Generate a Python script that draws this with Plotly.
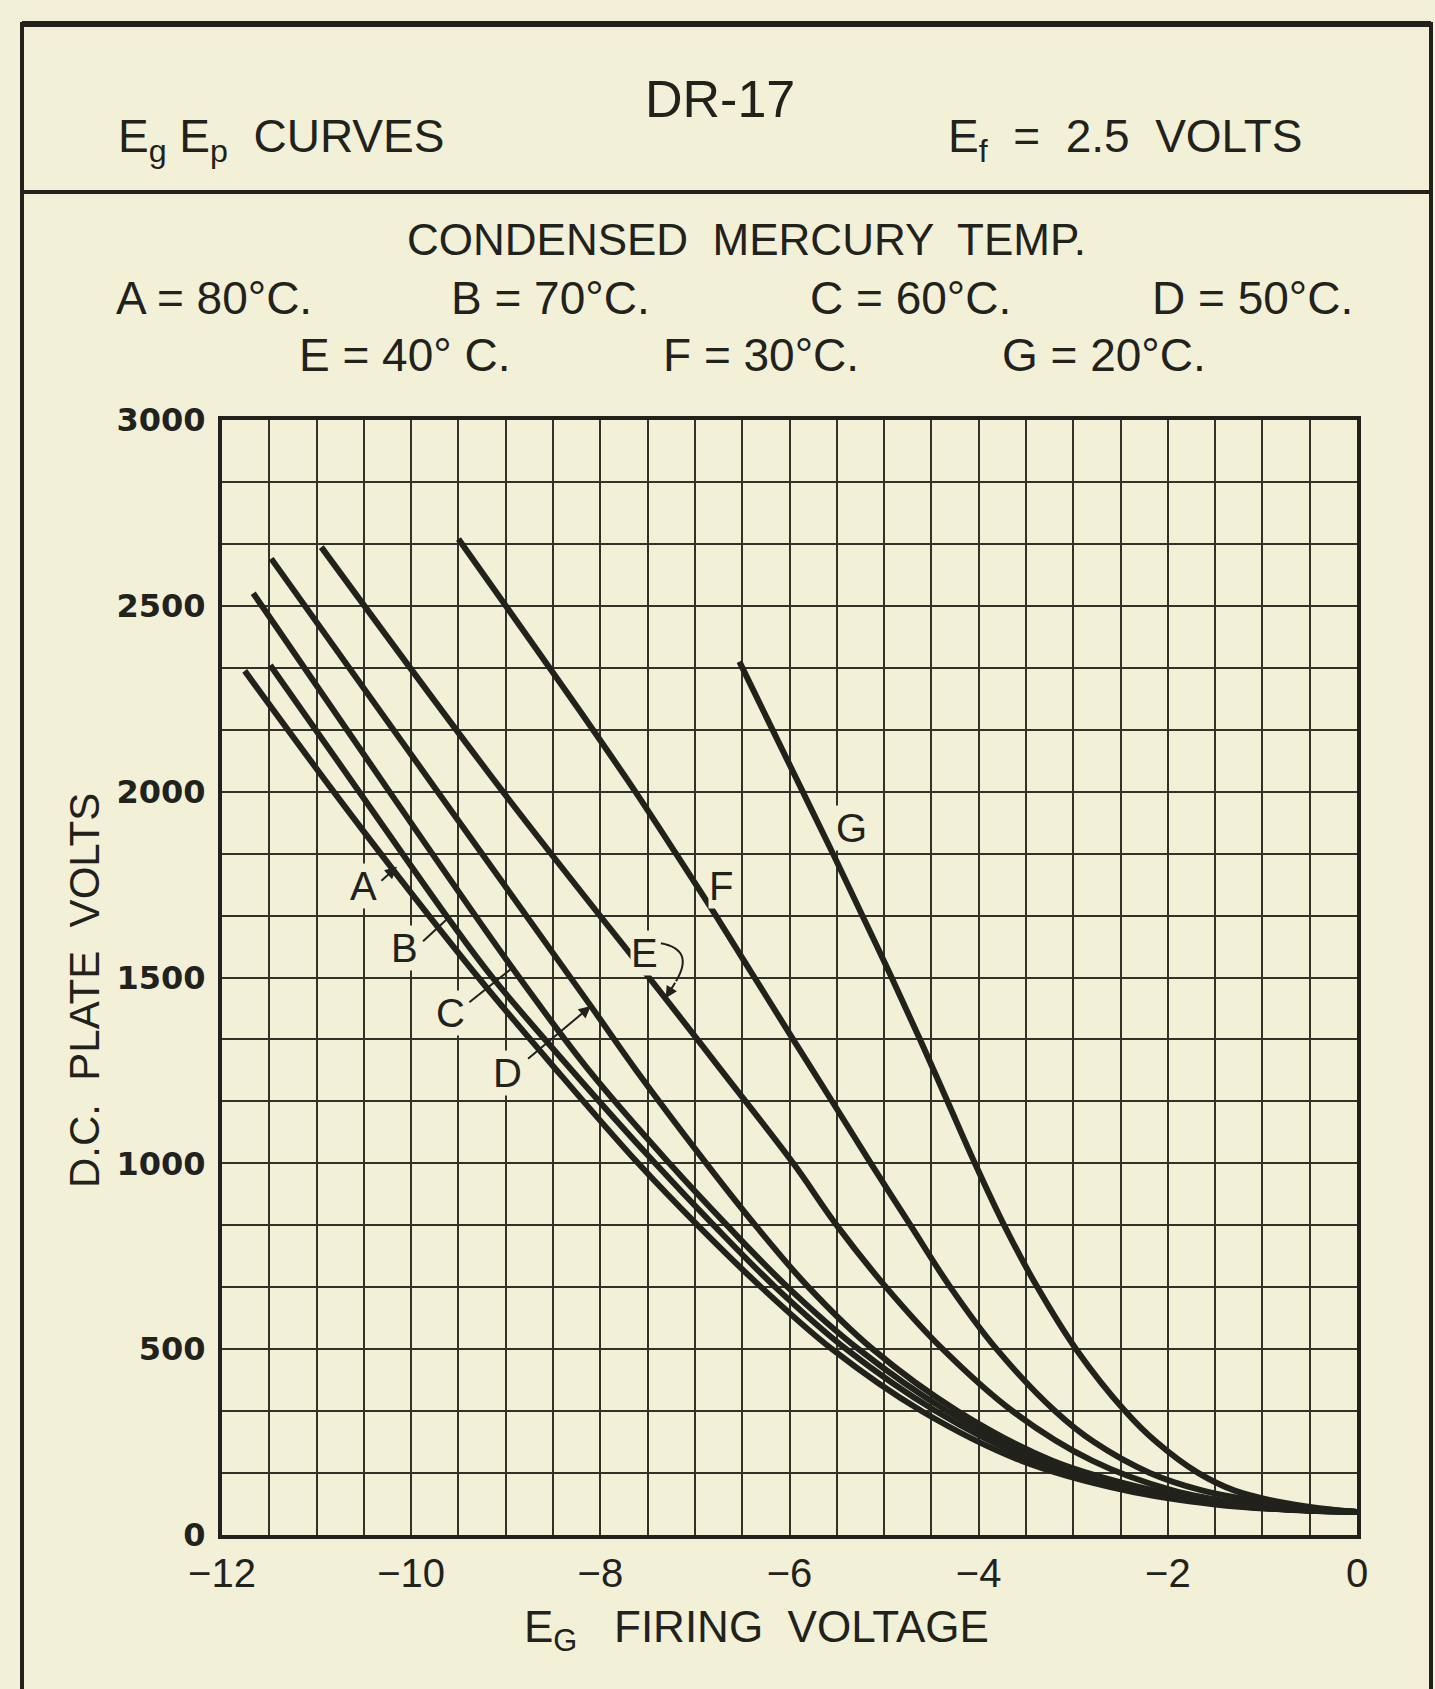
import plotly.graph_objects as go

# ---------------- data ----------------
EG_A = [-11.76, -10.82, -10.17, -9.29, -8.46, -7.6, -6.97, -6.3, -5.55, -4.6, -3.55, -2.45, -1.5, -0.75, 0.0]
EP_A = [2325, 2000, 1783, 1500, 1250, 1000, 833, 667, 500, 333, 200, 120, 82, 68, 62]

EG_B = [-11.49, -10.55, -9.63, -9.14, -8.3, -7.42, -6.8, -6.15, -5.4, -4.45, -3.42, -2.35, -1.42, -0.7, 0.0]
EP_B = [2340, 2000, 1667, 1500, 1250, 1000, 833, 667, 500, 333, 200, 120, 82, 68, 62]

EG_C = [-11.67, -10.23, -8.92, -8.12, -7.27, -6.66, -6.02, -5.27, -4.33, -3.32, -2.26, -1.36, -0.66, 0.0]
EP_C = [2534, 2000, 1522, 1250, 1000, 833, 667, 500, 333, 200, 120, 82, 68, 62]

EG_D = [-11.48, -9.72, -8.10, -7.62, -6.88, -6.36, -5.8, -5.12, -4.22, -3.22, -2.15, -1.3, -0.62, 0.0]
EP_D = [2627, 2000, 1423, 1250, 1000, 833, 667, 500, 333, 200, 120, 82, 68, 62]

EG_E = [-10.95, -9.03, -7.3, -6.72, -5.96, -5.5, -4.98, -4.38, -3.64, -2.8, -1.95, -1.22, -0.6, 0.0]
EP_E = [2658, 2000, 1440, 1250, 1000, 833, 667, 500, 333, 200, 120, 85, 70, 62]

EG_F = [-9.5, -9.0, -8.5, -8.06, -7.63, -7.2, -6.78, -6.37, -5.96, -5.55, -5.14, -4.72, -4.3, -3.81, -3.19, -2.78, -2.19, -1.64, -1.14, -0.57, 0.0]
EP_F = [2680, 2500, 2320, 2160, 2000, 1833, 1667, 1500, 1333, 1167, 1000, 833, 667, 500, 333, 250, 167, 120, 95, 75, 62]

EG_G = [-6.53, -6.18, -5.86, -5.54, -5.23, -4.92, -4.62, -4.33, -4.04, -3.73, -3.38, -2.97, -2.45, -2.12, -1.68, -1.3, -0.85, -0.4, 0.0]
EP_G = [2350, 2167, 2000, 1833, 1667, 1500, 1333, 1167, 1000, 833, 667, 500, 333, 250, 167, 120, 90, 72, 62]

CURVE_NAMES = ["A", "B", "C", "D", "E", "F", "G"]
CURVE_TEMPS = ["80°C.", "70°C.", "60°C.", "50°C.", "40° C.", "30°C.", "20°C."]

X_TICK_VALUES = [-12, -10, -8, -6, -4, -2, 0]
X_TICK_LABELS = ["\u221212", "\u221210", "\u22128", "\u22126", "\u22124", "\u22122", "0"]
Y_TICK_VALUES = [0, 500, 1000, 1500, 2000, 2500, 3000]
Y_TICK_LABELS = ["0", "500", "1000", "1500", "2000", "2500", "3000"]

# label positions for the curve letters (data coords) and leader lines
LABEL_POS = {"A": (-10.50, 1745), "B": (-10.07, 1579), "C": (-9.58, 1405), "D": (-8.98, 1243),
             "E": (-7.53, 1566), "F": (-6.72, 1747), "G": (-5.34, 1901)}
LEADERS = [  # (x_tip, y_tip, x_tail, y_tail, head)
    (-10.15, 1798, -10.33, 1757, 2),
    (-9.60, 1662, -9.89, 1594, 0),
    (-8.92, 1528, -9.40, 1430, 0),
    (-8.10, 1423, -8.78, 1278, 2),
    (-7.31, 1444, -7.20, 1490, 2),
]
E_HOOK = "M -7.36,1592 Q -7.0,1575 -7.2,1490"   # curly part of the E leader

# ---------------- style ----------------
PAPER = "#f3f0d8"
INK = "#22221c"
GRID = "#33322a"
FONT = "Liberation Sans, Arial, sans-serif"
W, H = 1435, 1689
L, R, T, B = 222, 1357, 420, 1535  # plot area in pixels

def px(xp):
    return (xp - L) / (R - L)

def py(yp):
    return (B - yp) / (B - T)

curves = {"A": (EG_A, EP_A), "B": (EG_B, EP_B), "C": (EG_C, EP_C), "D": (EG_D, EP_D),
          "E": (EG_E, EP_E), "F": (EG_F, EP_F), "G": (EG_G, EP_G)}

fig = go.Figure()
for name in CURVE_NAMES:
    xs, ys = curves[name]
    fig.add_trace(go.Scatter(x=xs, y=ys, mode="lines", name=name,
                             line=dict(color=INK, width=6, shape="spline", smoothing=1.0),
                             hoverinfo="skip", showlegend=False))

fig.update_xaxes(range=[-12, 0], tickmode="array", tickvals=X_TICK_VALUES, ticktext=X_TICK_LABELS,
                 showgrid=True, gridcolor=GRID, gridwidth=2.4, zeroline=False,
                 minor=dict(tickmode="linear", tick0=-12, dtick=0.5, showgrid=True,
                            gridcolor=GRID, gridwidth=2.4, ticks=""),
                 showline=True, linecolor=INK, linewidth=4, mirror=True, ticks="",
                 ticklabelstandoff=0,
                 tickfont=dict(family=FONT, size=40, color=INK))
fig.update_yaxes(range=[0, 3000], tickmode="array", tickvals=Y_TICK_VALUES, ticktext=Y_TICK_LABELS,
                 showgrid=True, gridcolor=GRID, gridwidth=2.4, zeroline=False,
                 minor=dict(tickmode="linear", tick0=0, dtick=500 / 3, showgrid=True,
                            gridcolor=GRID, gridwidth=2.4, ticks=""),
                 showline=True, linecolor=INK, linewidth=4, mirror=True, ticks="",
                 ticklabelstandoff=6,
                 tickfont=dict(family="DejaVu Sans, sans-serif", size=32, color=INK, weight="bold"))

ann = []
def add_text(text, x, y, size, xanchor="center", yanchor="middle", angle=0):
    ann.append(dict(text=text, x=x, y=y, xref="paper", yref="paper", showarrow=False,
                    xanchor=xanchor, yanchor=yanchor, textangle=angle,
                    font=dict(family=FONT, size=size, color=INK)))

add_text("DR-17", px(720), py(99), 52)
add_text("E<sub>g</sub> E<sub>p</sub>  CURVES", px(116), py(140), 46, xanchor="left")
add_text("E<sub>f</sub>  =  2.5  VOLTS", px(946), py(140), 46, xanchor="left")
add_text("CONDENSED  MERCURY  TEMP.", px(746), py(239), 44)
row1_x = [214, 550, 910, 1252]
row2_x = [404, 761, 1104]
for i, name in enumerate(CURVE_NAMES[:4]):
    add_text(f"{name} = {CURVE_TEMPS[i]}", px(row1_x[i]), py(298), 46)
for i, name in enumerate(CURVE_NAMES[4:]):
    add_text(f"{name} = {CURVE_TEMPS[i + 4]}", px(row2_x[i]), py(355), 46)
add_text("D.C.  PLATE  VOLTS", px(84), py(991), 42, angle=-90)
add_text("E<sub>G</sub>   FIRING  VOLTAGE", px(756), py(1630), 44)

for name in CURVE_NAMES:
    lx, ly = LABEL_POS[name]
    ann.append(dict(text=name, x=lx, y=ly, xref="x", yref="y", showarrow=False,
                    font=dict(family=FONT, size=40, color=INK), bgcolor=PAPER,
                    borderpad=0))
for (xt, yt, xa, ya, head) in LEADERS:
    ann.append(dict(text="", x=xt, y=yt, ax=xa, ay=ya, xref="x", yref="y", axref="x", ayref="y",
                    showarrow=True, arrowhead=head, arrowsize=1.2, arrowwidth=2, arrowcolor=INK,
                    standoff=0, startstandoff=0))

shapes = [
    dict(type="line", xref="paper", yref="paper", x0=px(22), x1=px(1431), y0=py(24), y1=py(24),
         line=dict(color=INK, width=6)),
    dict(type="line", xref="paper", yref="paper", x0=px(22), x1=px(1431), y0=py(192), y1=py(192),
         line=dict(color=INK, width=4)),
    dict(type="line", xref="paper", yref="paper", x0=px(22), x1=px(22), y0=py(22), y1=py(1689),
         line=dict(color=INK, width=4)),
    dict(type="line", xref="paper", yref="paper", x0=px(1431), x1=px(1431), y0=py(22), y1=py(1689),
         line=dict(color=INK, width=4)),
    dict(type="path", xref="x", yref="y", path=E_HOOK, line=dict(color=INK, width=2)),
]

fig.update_layout(width=W, height=H, paper_bgcolor=PAPER, plot_bgcolor=PAPER,
                  margin=dict(l=L, r=W - R, t=T, b=H - B, pad=0),
                  annotations=ann, shapes=shapes, showlegend=False)

fig.write_html("out.html", config={"displayModeBar": False},
               post_script="document.body.style.margin='0px';")
